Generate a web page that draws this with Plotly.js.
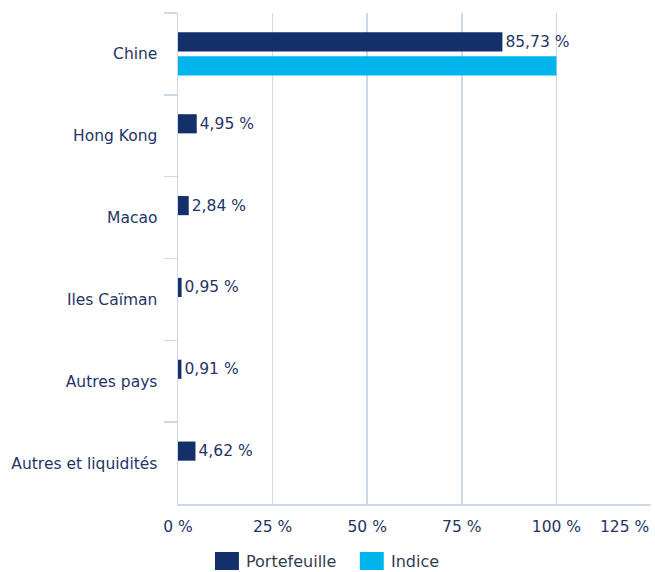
<!DOCTYPE html>
<html>
<head>
<meta charset="utf-8">
<script src="https://cdn.plot.ly/plotly-3.0.1.min.js"></script>
<style>html,body{margin:0;padding:0;background:#fff;}#chart{width:655px;height:572px;}</style>
</head>
<body>
<div id="chart"></div>
<script>
const categories = ["Chine", "Hong Kong", "Macao", "Iles Caïman", "Autres pays", "Autres et liquidités"];
const portefeuille = [85.73, 4.95, 2.84, 0.95, 0.91, 4.62];
const indice = [100, 0, 0, 0, 0, 0];
const tickValues = [0, 25, 50, 75, 100, 125];
const tickLabels = ["0 %", "25 %", "50 %", "75 %", "100 %", "125 %"];
const seriesNames = ["Portefeuille", "Indice"];

const NAVY = "#13306b";
const CYAN = "#00b5ec";
const TXT = "#1f3566";
const GRID = "#cdd8e8";
const FONT = "DejaVu Sans, Verdana, sans-serif";
const FS = 15.5;

const fmt = v => v.toFixed(2).replace(".", ",") + " %";

const traces = [
  {
    type: "bar", orientation: "h", name: seriesNames[0],
    y: categories, x: portefeuille,
    marker: {color: NAVY, line: {width: 0}},
    text: portefeuille.map(fmt), textposition: "outside",
    textfont: {family: FONT, size: FS, color: TXT},
    cliponaxis: false, hoverinfo: "none"
  },
  {
    type: "bar", orientation: "h", name: seriesNames[1],
    y: categories, x: indice,
    marker: {color: CYAN, line: {width: 0}},
    hoverinfo: "none"
  }
];

const lastIdx = tickValues.length - 1;
const layout = {
  width: 655, height: 572,
  margin: {l: 178, r: 3.5, t: 13, b: 68},
  paper_bgcolor: "#fff", plot_bgcolor: "#fff",
  barmode: "group", bargap: 0.415, bargroupgap: 0.2,
  showlegend: false,
  font: {family: FONT, size: FS, color: TXT},
  xaxis: {
    range: [0, tickValues[lastIdx]], tickmode: "array",
    tickvals: tickValues,
    ticktext: tickLabels.map((t, i) => i === lastIdx ? " " : t),
    showgrid: true, gridcolor: GRID, gridwidth: 1.5,
    zeroline: false, showline: true, linecolor: GRID, linewidth: 1.5,
    ticks: "", ticklabelstandoff: 8,
    tickfont: {family: FONT, size: FS, color: TXT},
    fixedrange: true
  },
  yaxis: {
    autorange: "reversed", type: "category",
    showline: true, linecolor: GRID, linewidth: 1.5,
    ticks: "outside", tickson: "boundaries", ticklen: 13, tickcolor: GRID, tickwidth: 1.5,
    ticklabelstandoff: 16,
    tickfont: {family: FONT, size: FS, color: TXT},
    showgrid: false, zeroline: false, fixedrange: true
  },
  annotations: [
    {xref: "x", yref: "paper", x: tickValues[lastIdx], y: 0, yshift: -23,
     text: tickLabels[lastIdx], showarrow: false, xanchor: "right", yanchor: "middle",
     font: {family: FONT, size: FS, color: TXT}},
    {xref: "paper", yref: "paper", x: (244 - 178) / 473.5, y: -(561 - 504) / 491,
     text: seriesNames[0], showarrow: false, xanchor: "left", yanchor: "middle",
     font: {family: FONT, size: 16, color: "#333c4e"}},
    {xref: "paper", yref: "paper", x: (389 - 178) / 473.5, y: -(561 - 504) / 491,
     text: seriesNames[1], showarrow: false, xanchor: "left", yanchor: "middle",
     font: {family: FONT, size: 16, color: "#333c4e"}}
  ],
  shapes: [
    {type: "rect", xref: "paper", yref: "paper",
     x0: (215 - 178) / 473.5, x1: (239 - 178) / 473.5,
     y0: -(552 - 504) / 491, y1: -(570 - 504) / 491,
     fillcolor: NAVY, line: {width: 0}},
    {type: "rect", xref: "paper", yref: "paper",
     x0: (360 - 178) / 473.5, x1: (384 - 178) / 473.5,
     y0: -(552 - 504) / 491, y1: -(570 - 504) / 491,
     fillcolor: CYAN, line: {width: 0}}
  ]
};

Plotly.newPlot("chart", traces, layout, {displayModeBar: false, staticPlot: true});
</script>
</body>
</html>
